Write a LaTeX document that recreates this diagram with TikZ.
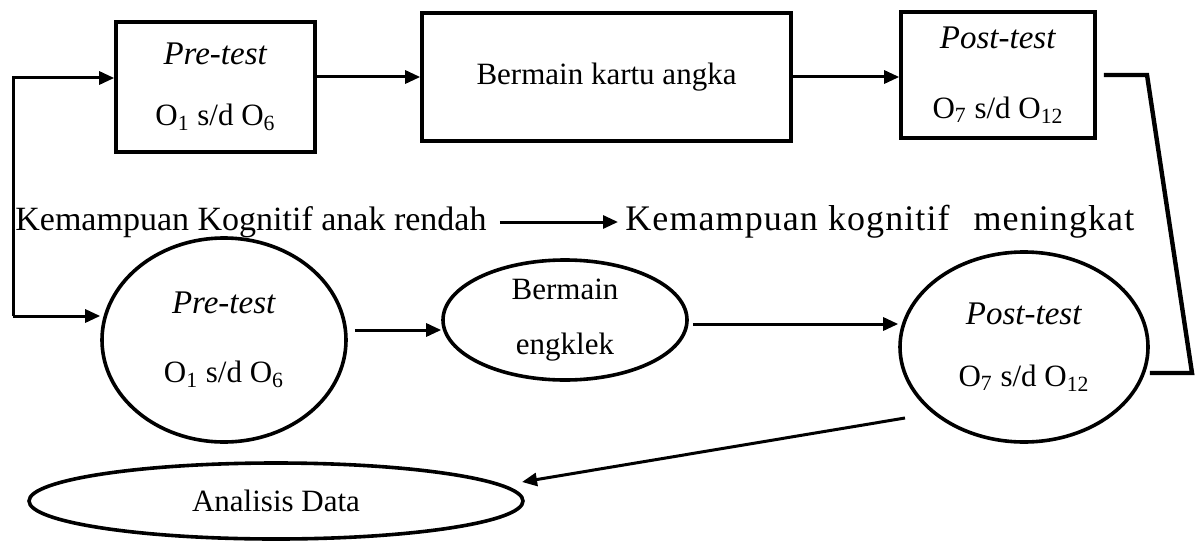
\documentclass[tikz,border=0pt]{standalone}
\usepackage{fontspec}
\setmainfont{Liberation Serif}
\newfontfamily\widefont[LetterSpace=3]{Liberation Serif}
\usetikzlibrary{arrows.meta,shapes.geometric}

\newcommand{\testname}[1]{{\fontsize{16.5}{18}\selectfont\textit{#1}}}

\begin{document}
\begin{tikzpicture}[x=0.5pt, y=-0.5pt,
    every node/.style={font=\fontsize{15.5}{18}\selectfont, align=center, inner sep=0pt},
    box/.style={draw, rectangle, line width=1.8pt},
    oval/.style={draw, ellipse, line width=1.8pt},
    midtext/.style={anchor=west, font=\fontsize{17}{20}\selectfont},
    arr/.style={line width=1.5pt, -{Triangle[length=7.5pt,width=6.5pt]}}]
            \useasboundingbox (0,0) rectangle (1197,540);

            % Upper row (boxes)
            \node[box, minimum width=99.5pt, minimum height=65pt] (pre-1) at (215.5,87) {\testname{Pre-test}\\[12.5pt] O\textsubscript{1} s/d O\textsubscript{6}};
            \node[box, minimum width=184.5pt, minimum height=64pt] (play-1) at (606.5,77) {Bermain kartu angka};
            \node[box, minimum width=97pt, minimum height=63pt] (post-1) at (998,75) {\testname{Post-test}\\[17pt] O\textsubscript{7} s/d O\textsubscript{12}};

            % Middle line
            \node[midtext] (low) at (15,222) {Kemampuan Kognitif anak rendah};
            \node[midtext, font=\fontsize{18}{20}\widefont] (high) at (625,222) {Kemampuan kognitif\hspace{12pt}meningkat};

            % Lower row (ellipses)
            \node[oval, minimum width=122pt, minimum height=102pt] (pre-2) at (224,340) {\testname{Pre-test}\\[16.5pt] O\textsubscript{1} s/d O\textsubscript{6}};
            \node[oval, minimum width=122pt, minimum height=60pt] (play-2) at (565,320) {Bermain\\[9.5pt] engklek};
            \node[oval, minimum width=124pt, minimum height=95pt] (post-2) at (1024,347) {\testname{Post-test}\\[13pt] O\textsubscript{7} s/d O\textsubscript{12}};
            \node[oval, minimum width=247pt, minimum height=38pt] (data) at (276,501) {Analisis Data};

            % Corner points of the connectors
            \coordinate (lt) at (13,78);
            \coordinate (lb) at (13,316);
            \coordinate (rt) at (1147,75);
            \coordinate (rb) at (1192,373);
            \coordinate (p3) at (905,418);
            \coordinate (p4) at (522,482);

            % Edges
            \draw[arr] (lb) -- (lt) -- (lt -| pre-1.west);
            \draw[arr] (lb) -- (lb -| pre-2.west);
            \draw[arr] (play-1.west -| pre-1.east) -- (play-1.west);
            \draw[arr] (play-1.east) -- (play-1.east -| post-1.west);
            \draw[line width=2.2pt, shorten <=3.5pt] (post-1.east |- rt) -- (rt) -- (rb) -- (rb -| post-2.east);
            \draw[arr, shorten <=6.5pt, shorten >=3.5pt] (low.east) -- (high.west);
            \draw[arr] ([shift={(3.5pt,5pt)}]pre-2.east) coordinate (a1) -- (a1 -| play-2.west);
            \draw[arr] ([shift={(2pt,-2pt)}]play-2.east) coordinate (a2) -- (a2 -| post-2.west);
            \draw[arr] (p3) -- (p4);
        \end{tikzpicture}
\end{document}
